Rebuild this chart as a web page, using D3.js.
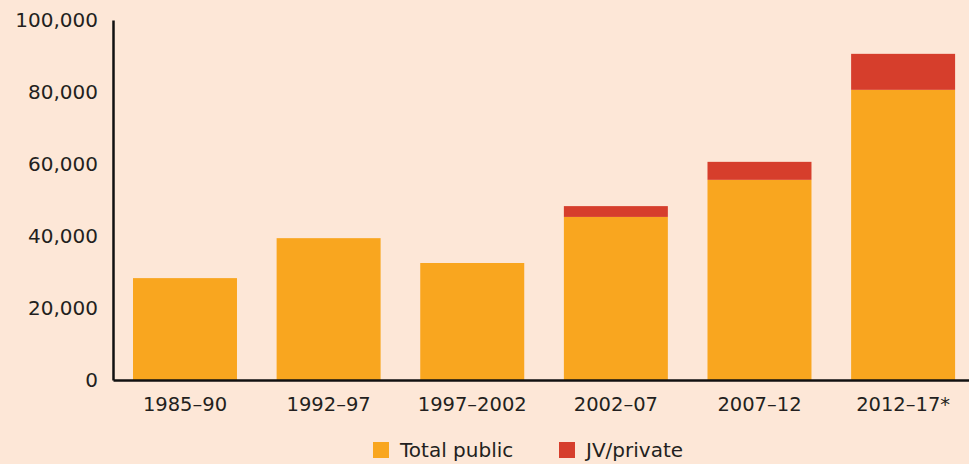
<!DOCTYPE html>
<html>
<head>
<meta charset="utf-8">
<script src="https://cdn.jsdelivr.net/npm/d3@7"></script>
<style>
  html, body { margin: 0; padding: 0; background: #fde7d7; }
  svg text { font-family: "DejaVu Sans", sans-serif; fill: #231f20; }
</style>
</head>
<body>
<div id="container"></div>
<script>
/* DATA */
const periods = ["1985–90", "1992–97", "1997–2002", "2002–07", "2007–12", "2012–17*"]
const totalPublic = [28300, 39400, 32500, 45300, 55600, 80600]
const jvPrivate = [0, 0, 0, 3000, 5000, 10000]
const seriesNames = ["Total public", "JV/private"]
const yTicks = [0, 20000, 40000, 60000, 80000, 100000]

/* CONSTANTS */
const width = 969, height = 464
const margin = {top: 20, bottom: 84, left: 113, right: 0}
const colors = ["#f9a61f", "#d63e2c"]

const rows = periods.map((p, i) => ({period: p, "Total public": totalPublic[i], "JV/private": jvPrivate[i]}))
const stacked = d3.stack().keys(seriesNames)(rows)

const svg = d3.select("#container")
  .append("svg")
  .attr("width", width)
  .attr("height", height)

const xScale = d3.scaleBand()
  .domain(periods)
  .range([margin.left, width - margin.right])
  .paddingInner(0.276)
  .paddingOuter(0.118)
  .align(0.59)

const yScale = d3.scaleLinear()
  .domain([0, 100000])
  .range([height - margin.bottom, margin.top])

// bars
svg.selectAll("g.series")
  .data(stacked)
  .join("g")
  .attr("class", "series")
  .attr("fill", (d, i) => colors[i])
  .selectAll("rect")
  .data(d => d.filter(s => s[1] > s[0]))
  .join("rect")
  .attr("x", d => xScale(d.data.period))
  .attr("width", xScale.bandwidth())
  .attr("y", d => yScale(d[1]))
  .attr("height", d => yScale(d[0]) - yScale(d[1]))

// y axis
const yAxis = d3.axisLeft(yScale)
  .tickValues(yTicks)
  .tickFormat(d3.format(","))
  .tickSize(0)
  .tickPadding(15)

svg.append("g")
  .attr("transform", `translate(${margin.left},0)`)
  .call(yAxis)
  .call(g => g.select(".domain").attr("stroke", "#111").attr("stroke-width", 2.5))
  .call(g => g.selectAll("text").attr("font-size", 20))

// x axis
const xAxis = d3.axisBottom(xScale).tickSize(0).tickPadding(17)

svg.append("g")
  .attr("transform", `translate(0,${height - margin.bottom})`)
  .call(xAxis)
  .call(g => g.select(".domain").attr("stroke", "#111").attr("stroke-width", 2.5))
  .call(g => g.selectAll("text").attr("font-size", 19.5))

// legend
const legendX = [373, 559]
const legend = svg.append("g")
  .selectAll("g")
  .data(seriesNames)
  .join("g")
  .attr("transform", (d, i) => `translate(${legendX[i]},442)`)

legend.append("rect")
  .attr("width", 16)
  .attr("height", 16)
  .attr("fill", (d, i) => colors[i])

legend.append("text")
  .attr("x", 27)
  .attr("y", 8)
  .attr("dy", "0.36em")
  .attr("font-size", 20)
  .text(d => d)
</script>
</body>
</html>
